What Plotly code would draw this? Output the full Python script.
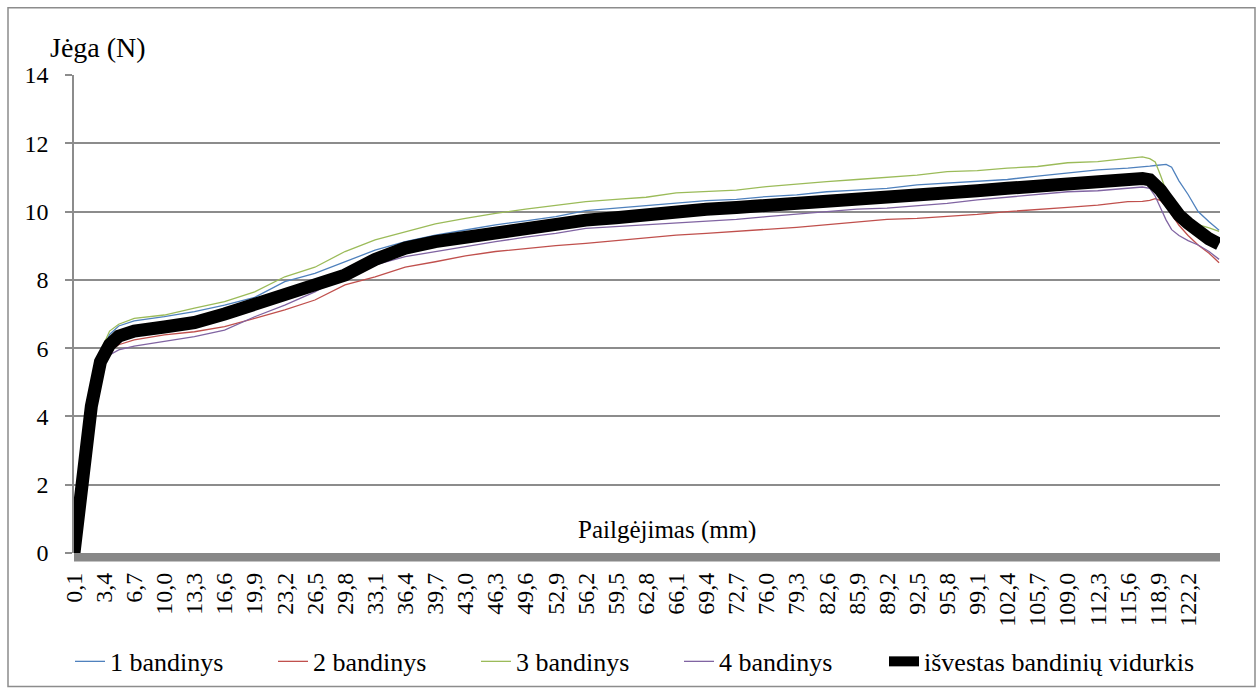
import plotly.graph_objects as go

elongation_mm = [0.1, 1.0, 2.0, 3.0, 4.0, 5.0, 6.7, 10.0, 13.3, 16.6, 19.9, 23.2, 26.5, 29.8,
                 33.1, 36.4, 39.7, 43.0, 46.3, 49.6, 52.9, 56.2, 59.5, 62.8, 66.1, 69.4, 72.7,
                 76.0, 79.3, 82.6, 85.9, 89.2, 92.5, 95.8, 99.1, 102.4, 105.7, 109.0, 112.3,
                 115.6, 117.2, 118.0, 118.6, 119.2, 119.8, 120.4, 121.2, 122.2, 123.3, 124.5, 125.6]

sample_1 = [0, 2.3, 4.5, 5.8, 6.4, 6.65, 6.8, 6.92, 7.07, 7.26, 7.49, 7.95, 8.19, 8.53, 8.87, 9.12,
            9.31, 9.46, 9.61, 9.73, 9.85, 10.03, 10.1, 10.16, 10.24, 10.32, 10.36, 10.44, 10.49,
            10.58, 10.63, 10.68, 10.78, 10.83, 10.9, 10.94, 11.04, 11.12, 11.22, 11.27, 11.3,
            11.33, 11.35, 11.37, 11.38, 11.3, 10.9, 10.5, 10.0, 9.7, 9.45]

sample_2 = [0, 2.2, 4.2, 5.4, 5.9, 6.1, 6.24, 6.39, 6.48, 6.63, 6.87, 7.12, 7.41, 7.85, 8.09, 8.37,
            8.53, 8.7, 8.83, 8.92, 9.0, 9.07, 9.15, 9.25, 9.31, 9.36, 9.41, 9.48, 9.54, 9.61, 9.7,
            9.77, 9.8, 9.85, 9.92, 10.0, 10.05, 10.12, 10.19, 10.29, 10.3, 10.33, 10.38, 10.32,
            10.15, 9.9, 9.6, 9.3, 9.02, 8.78, 8.5]

sample_3 = [0, 2.3, 4.6, 5.9, 6.5, 6.7, 6.87, 6.97, 7.17, 7.36, 7.65, 8.09, 8.37, 8.83, 9.17, 9.41,
            9.64, 9.8, 9.95, 10.07, 10.19, 10.29, 10.36, 10.42, 10.55, 10.58, 10.63, 10.73, 10.81,
            10.88, 10.94, 11.0, 11.07, 11.17, 11.2, 11.27, 11.32, 11.43, 11.46, 11.56, 11.6, 11.55,
            11.45, 11.05, 10.6, 10.25, 9.95, 9.75, 9.62, 9.52, 9.42]

sample_4 = [0, 2.2, 4.2, 5.4, 5.8, 5.95, 6.06, 6.19, 6.34, 6.53, 6.92, 7.26, 7.65, 8.14, 8.44, 8.68,
            8.83, 8.97, 9.12, 9.25, 9.36, 9.51, 9.56, 9.61, 9.68, 9.73, 9.77, 9.85, 9.93, 10.0,
            10.07, 10.1, 10.16, 10.24, 10.34, 10.42, 10.49, 10.58, 10.61, 10.68, 10.72, 10.68,
            10.45, 10.1, 9.75, 9.47, 9.3, 9.15, 9.02, 8.83, 8.6]

average = [0, 2.2, 4.3, 5.6, 6.1, 6.35, 6.5, 6.62, 6.75, 7.0, 7.3, 7.55, 7.85, 8.14, 8.6, 8.93,
           9.12, 9.26, 9.37, 9.49, 9.6, 9.75, 9.82, 9.92, 10.0, 10.07, 10.12, 10.17, 10.24, 10.31,
           10.37, 10.39, 10.46, 10.54, 10.61, 10.68, 10.76, 10.83, 10.88, 10.93, 10.97, 10.93,
           10.82, 10.62, 10.4, 10.15, 9.9, 9.66, 9.39, 9.2, 9.05]

tick_positions = [0.1, 3.4, 6.7, 10.0, 13.3, 16.6, 19.9, 23.2, 26.5, 29.8, 33.1, 36.4, 39.7, 43.0,
                  46.3, 49.6, 52.9, 56.2, 59.5, 62.8, 66.1, 69.4, 72.7, 76.0, 79.3, 82.6, 85.9,
                  89.2, 92.5, 95.8, 99.1, 102.4, 105.7, 109.0, 112.3, 115.6, 118.9, 122.2]
tick_labels = ["0,1", "3,4", "6,7", "10,0", "13,3", "16,6", "19,9", "23,2", "26,5", "29,8", "33,1",
               "36,4", "39,7", "43,0", "46,3", "49,6", "52,9", "56,2", "59,5", "62,8", "66,1",
               "69,4", "72,7", "76,0", "79,3", "82,6", "85,9", "89,2", "92,5", "95,8", "99,1",
               "102,4", "105,7", "109,0", "112,3", "115,6", "118,9", "122,2"]

series_names = ["1 bandinys", "2 bandinys", "3 bandinys", "4 bandinys"]
series_colors = ["#4F81BD", "#C0504D", "#9BBB59", "#8064A2"]
average_name = "išvestas bandinių vidurkis"

fig = go.Figure()
for name, vals, col in zip(series_names, [sample_1, sample_2, sample_3, sample_4], series_colors):
    fig.add_trace(go.Scatter(x=elongation_mm, y=vals, mode="lines", name=name,
                             line=dict(color=col, width=1.3), legend="legend"))
fig.add_trace(go.Scatter(x=elongation_mm, y=average, mode="lines", name=average_name,
                         line=dict(color="black", width=13), legend="legend2"))

SERIF = "Times New Roman, Liberation Serif, DejaVu Serif, serif"
GRID = "#8c8c8c"
fig.update_layout(
    width=1258, height=692,
    margin=dict(l=74, r=38, t=75, b=139, autoexpand=False),
    paper_bgcolor="white", plot_bgcolor="white",
    font=dict(family=SERIF, size=24, color="black"),
    showlegend=True,
    legend=dict(orientation="h", x=-4 / 1146, xanchor="left", y=-108 / 476, yanchor="middle",
                font=dict(family=SERIF, size=26), entrywidth=158, bgcolor="rgba(0,0,0,0)",
                traceorder="normal"),
    legend2=dict(orientation="h", x=810 / 1146, xanchor="left", y=-108 / 476, yanchor="middle",
                 font=dict(family=SERIF, size=26), bgcolor="rgba(0,0,0,0)"),
    xaxis=dict(range=[0.1, 125.7], tickmode="array", tickvals=tick_positions,
               ticktext=tick_labels, tickangle=-90, showgrid=False, zeroline=False,
               showline=False, ticks="", ticklabelstandoff=14,
               tickfont=dict(family=SERIF, size=24)),
    yaxis=dict(range=[0, 14], tick0=0, dtick=2, showgrid=True, gridcolor=GRID, gridwidth=1.5,
               zeroline=False, showline=True, linecolor=GRID, linewidth=1.5,
               ticks="outside", ticklen=7, tickcolor=GRID, tickwidth=1.5,
               ticklabelstandoff=12, tickfont=dict(family=SERIF, size=24)),
    shapes=[
        dict(type="rect", xref="paper", yref="paper", x0=0, x1=1, y0=-8.5 / 476, y1=0,
             fillcolor="#888888", line=dict(width=0), layer="above"),
        dict(type="rect", xref="paper", yref="paper", x0=-66 / 1146, x1=1181 / 1146,
             y0=-133 / 476, y1=543 / 476, line=dict(color=GRID, width=1.5),
             fillcolor="rgba(0,0,0,0)"),
    ],
    annotations=[
        dict(text="Jėga (N)", xref="paper", yref="paper", x=-26 / 1146, y=503 / 476,
             xanchor="left", yanchor="middle", showarrow=False,
             font=dict(family=SERIF, size=28)),
        dict(text="Pailgėjimas (mm)", xref="paper", yref="paper", x=593 / 1146, y=23 / 476,
             xanchor="center", yanchor="middle", showarrow=False,
             font=dict(family=SERIF, size=25)),
    ],
)

fig.write_html("out.html")
